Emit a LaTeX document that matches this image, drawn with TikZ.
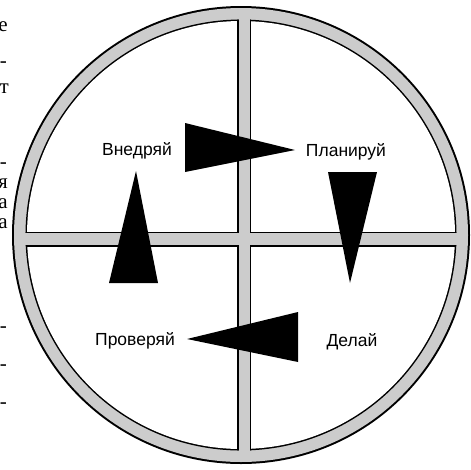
\documentclass[tikz,border=0pt]{standalone}
\usepackage{fontspec}
\setmainfont{Liberation Serif}
\newfontfamily\stagefont{Liberation Sans}
\definecolor{ringgray}{gray}{0.8}
\tikzset{
  stage/.style={font=\stagefont\fontsize{17.5}{19}\selectfont, inner sep=0pt, anchor=base},
  margintext/.style={font=\fontsize{21}{22}\selectfont, inner sep=0pt, anchor=base east},
}

\begin{document}
\begin{tikzpicture}[x=1pt,y=-1pt]
  \useasboundingbox (0,0) rectangle (471,469);
  % ring
  \fill[black] (241,235) circle[radius=229pt];
  \fill[ringgray] (241,235) circle[radius=227pt];
  \fill[black] (241,235) circle[radius=215.5pt];
  \fill[white] (241,235) circle[radius=214pt];
  % cross
  \begin{scope}
    \clip (241,235) circle[radius=215.5pt];
    \draw[line width=14pt] (244,0) -- (244,469);
    \draw[line width=15pt] (0,239) -- (471,239);
  \end{scope}
  \begin{scope}
    \clip (241,235) circle[radius=221pt];
    \draw[ringgray, line width=11pt] (244,0) -- (244,469);
    \draw[ringgray, line width=12pt] (0,239) -- (471,239);
  \end{scope}
  % wedges
  \fill (185,123) -- (185,172) -- (295,150) -- cycle;
  \fill (328,172) -- (377,172) -- (350,283) -- cycle;
  \fill (298,312) -- (298,362) -- (187,339) -- cycle;
  \fill (109,283) -- (158,283) -- (136,171) -- cycle;
  % labels
  \node[stage] (vnedryay) at (137,155) {Внедряй};
  \node[stage] (planiruy) at (346,156) {Планируй};
  \node[stage] (proveryay) at (135,345) {Проверяй};
  \node[stage] (delay) at (352,346) {Делай};
  % cut page text at left
  \node[margintext] (m1) at (8,31) {е};
  \node[margintext] (m2) at (7,67) {-};
  \node[margintext] (m3) at (9,93) {т};
  \node[margintext] (m4) at (7,168) {-};
  \node[margintext] (m5) at (8,188) {я};
  \node[margintext] (m6) at (8,208) {а};
  \node[margintext] (m7) at (8,228) {а};
  \node[margintext] (m8) at (7,332) {-};
  \node[margintext] (m9) at (7,370) {-};
  \node[margintext] (m10) at (7,408) {-};
\end{tikzpicture}
\end{document}
